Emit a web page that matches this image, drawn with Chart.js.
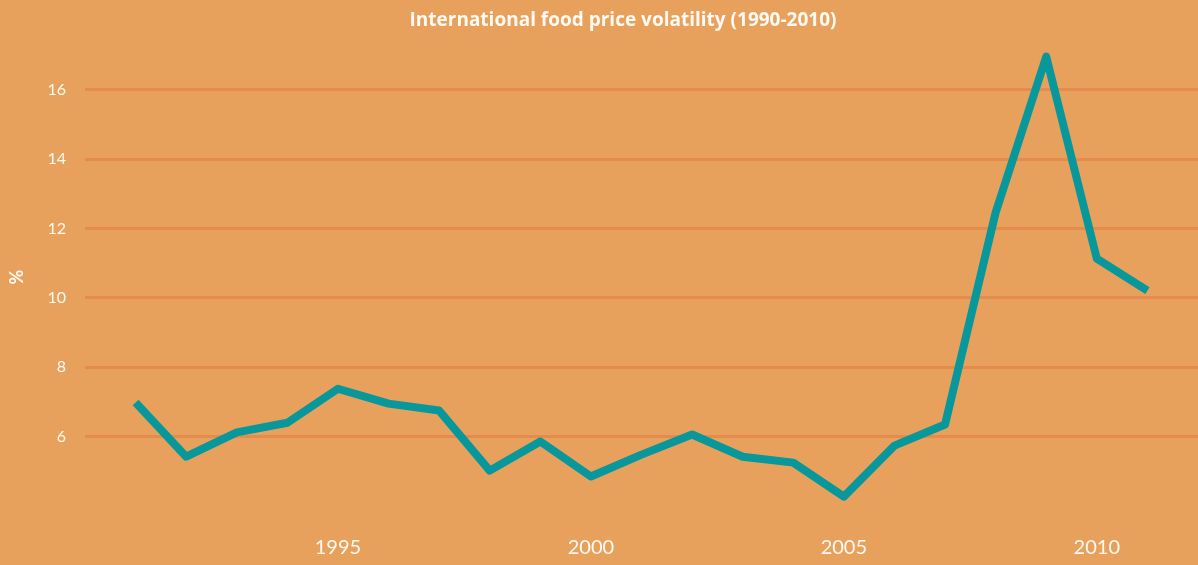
<!DOCTYPE html>
<html><head><meta charset="utf-8">
<script src="https://cdn.jsdelivr.net/npm/chart.js@4/dist/chart.umd.min.js"></script>
<style>html,body{margin:0;padding:0;background:#E8A15D;overflow:hidden}#wrap{width:1198px;height:565px}</style>
</head><body><div id="wrap"><canvas id="c" width="1198" height="565"></canvas></div>
<script>
const years = [1991,1992,1993,1994,1995,1996,1997,1998,1999,2000,2001,2002,2003,2004,2005,2006,2007,2008,2009,2010,2011];
const volatility = [6.98,5.42,6.12,6.40,7.38,6.95,6.75,5.02,5.86,4.85,5.48,6.06,5.42,5.25,4.27,5.74,6.35,12.46,16.95,11.13,10.21];
const yTickValues = [6,8,10,12,14,16];
const xTickValues = [1995,2000,2005,2010];
const chartTitle = 'International food price volatility (1990-2010)';
const yAxisTitle = '%';

const textColor = '#fffaf2';
const gridColor = '#E38C4B';
const lineColor = '#08979A';

new Chart(document.getElementById('c'), {
  type: 'line',
  data: {
    datasets: [{
      data: years.map((y, i) => ({x: y, y: volatility[i]})),
      borderColor: lineColor,
      borderWidth: 8,
      pointRadius: 0,
      tension: 0,
      borderJoinStyle: 'round',
      fill: false
    }]
  },
  options: {
    responsive: false,
    animation: false,
    layout: {padding: {left: 0, right: -48, top: 0, bottom: 0}},
    plugins: {
      legend: {display: false},
      tooltip: {enabled: false},
      title: {
        display: true,
        text: chartTitle,
        color: textColor,
        font: {family: 'Open Sans', size: 19, weight: 'bold'},
        padding: {top: 9, bottom: 16.2}
      }
    },
    scales: {
      x: {
        type: 'linear',
        min: 1990,
        max: 2012,
        afterBuildTicks: s => { s.ticks = xTickValues.map(v => ({value: v})); },
        afterFit: s => { s.height = 59; },
        grid: {display: false, drawTicks: false},
        border: {display: false},
        ticks: {color: textColor, font: {family: 'Lato', size: 20}, padding: 30, maxRotation: 0, autoSkip: false,
                callback: v => String(v)}
      },
      y: {
        min: 4,
        max: 17.2,
        afterBuildTicks: s => { s.ticks = yTickValues.map(v => ({value: v})); },
        afterFit: s => { s.width = 85; },
        grid: {color: gridColor, lineWidth: 3, drawTicks: false},
        border: {display: false},
        ticks: {color: textColor, font: {family: 'Lato', size: 16}, padding: 19},
        title: {display: true, text: yAxisTitle, color: textColor, font: {family: 'Lato', size: 18, weight: 'bold'}, padding: {top: 6, bottom: 0}}
      }
    }
  }
});
</script></body></html>
